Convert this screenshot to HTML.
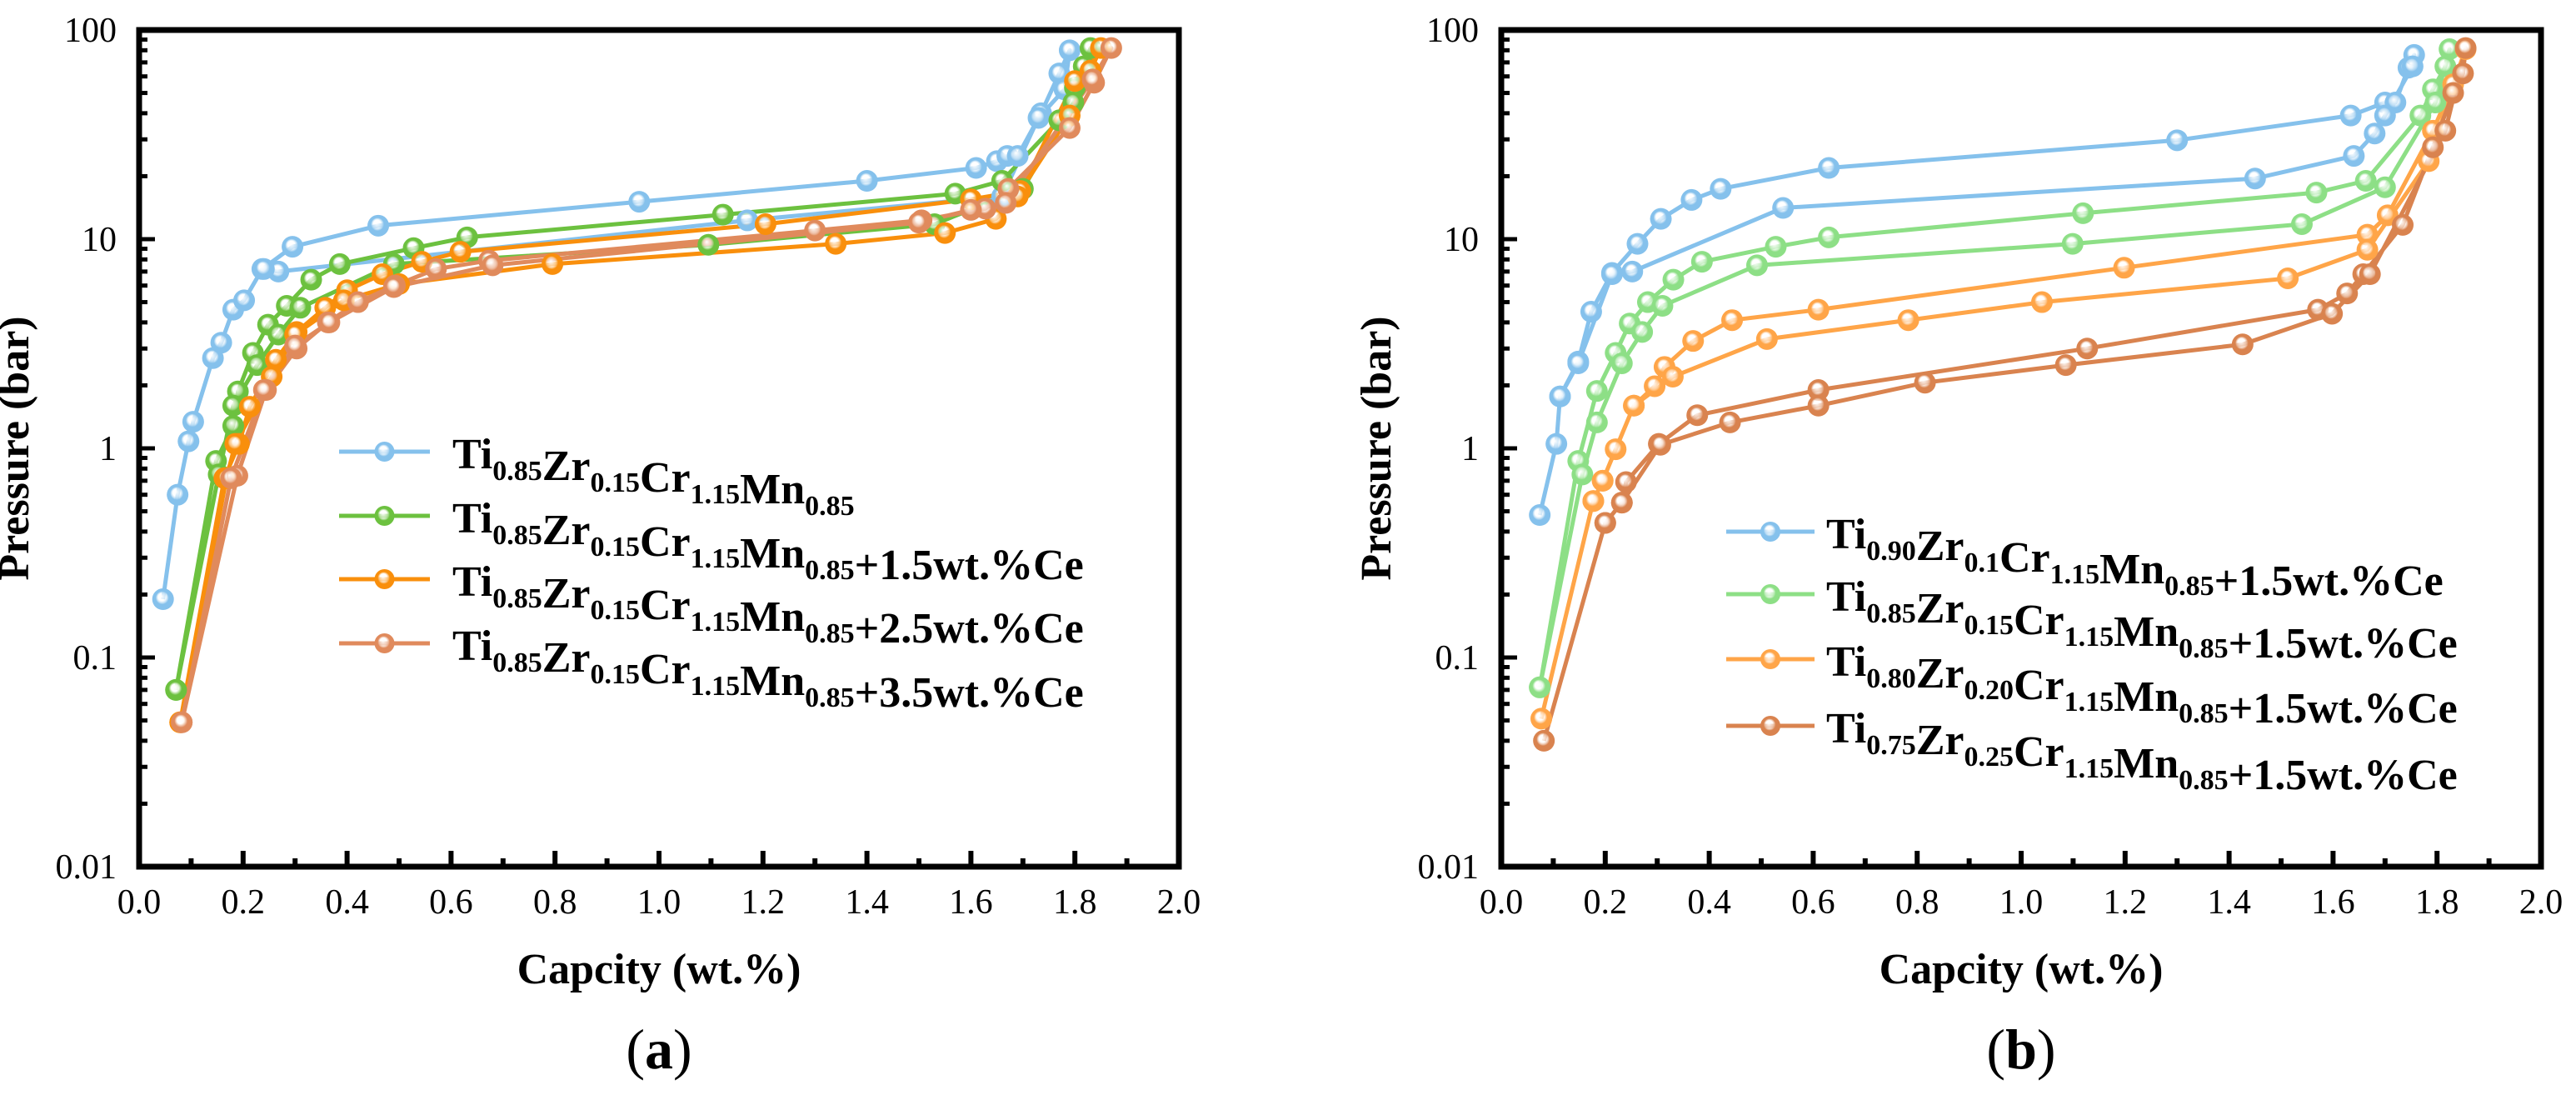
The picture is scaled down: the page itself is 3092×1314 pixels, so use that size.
<!DOCTYPE html>
<html><head><meta charset="utf-8"><style>
html,body{margin:0;padding:0;background:#fff}
svg{display:block}
</style></head><body>
<svg id="fig" xmlns="http://www.w3.org/2000/svg" width="3092" height="1314" viewBox="0 0 3092 1314">
<defs id="defs"></defs>
<g id="chartA"></g>
<g id="chartB"></g>
</svg>
<script>
// ---------- Panel (a) data ----------
const aCatX = [0.0,0.2,0.4,0.6,0.8,1.0,1.2,1.4,1.6,1.8,2.0];
const yTickVals = [0.01,0.1,1,10,100];
const yTickLabels = ["0.01","0.1","1","10","100"];
const xTickLabels = ["0.0","0.2","0.4","0.6","0.8","1.0","1.2","1.4","1.6","1.8","2.0"];

const aBlueX = [0.046,0.074,0.095,0.104,0.142,0.158,0.181,0.202,0.237,0.295,0.46,0.962,1.40,1.61,1.65,1.67,1.69,1.735,1.77,1.79,1.78,1.73,1.66,1.17,0.268,0.24];
const aBlueP = [0.19,0.6,1.08,1.34,2.7,3.2,4.6,5.1,7.2,9.2,11.6,15.1,19,21.9,23.6,25,25,40,62,80,52,38,16,12.3,7.0,7.2];
const aGreenX = [0.071,0.148,0.181,0.19,0.219,0.248,0.284,0.331,0.386,0.528,0.631,1.123,1.57,1.66,1.77,1.80,1.817,1.83,1.797,1.70,1.53,1.095,0.49,0.31,0.268,0.227,0.181,0.153,0.071];
const aGreenP = [0.07,0.87,1.28,1.87,2.86,3.9,4.8,6.4,7.6,9.06,10.2,13.1,16.5,19,37,53,67,82,45,17.4,11.8,9.4,7.6,4.7,3.5,2.5,1.6,0.75,0.07];
const aOrangeX = [0.079,0.164,0.192,0.213,0.263,0.303,0.358,0.40,0.468,0.544,0.618,1.205,1.60,1.695,1.79,1.83,1.85,1.80,1.69,1.648,1.55,1.34,0.795,0.50,0.394,0.30,0.255,0.185,0.168,0.079];
const aOrangeP = [0.049,0.72,1.05,1.58,2.65,3.6,4.7,5.7,6.8,7.8,8.7,11.8,15.5,17,39,64,82,57,16,12.5,10.7,9.5,7.6,6.1,5.1,3.5,2.2,1.05,0.72,0.049];
const aBrownX = [0.082,0.189,0.244,0.303,0.363,0.421,0.492,0.571,0.673,1.30,1.505,1.628,1.672,1.79,1.837,1.87,1.834,1.667,1.60,1.50,0.68,0.49,0.366,0.30,0.24,0.177,0.082];
const aBrownP = [0.049,0.74,1.9,3.0,4.0,5.0,6.0,7.2,7.9,11,12.3,14,17.4,34,56,82,58,14.9,13.8,12,7.5,5.9,4.0,3.1,1.9,0.72,0.049];

// ---------- Panel (b) data ----------
const bBlueX = [0.074,0.106,0.113,0.148,0.173,0.213,0.262,0.307,0.366,0.422,0.63,1.30,1.634,1.70,1.72,1.745,1.756,1.753,1.70,1.68,1.64,1.45,0.542,0.252,0.213,0.148,0.113];
const bBlueP = [0.48,1.05,1.77,2.6,4.5,6.9,9.5,12.5,15.4,17.4,21.9,29.7,39,45,45,66,76,67,39,32,25,19.5,14.1,7.0,6.8,2.55,1.77];
const bGreenX = [0.074,0.148,0.184,0.22,0.247,0.282,0.331,0.386,0.528,0.63,1.119,1.568,1.663,1.768,1.792,1.816,1.824,1.797,1.70,1.54,1.099,0.492,0.31,0.271,0.232,0.184,0.156,0.074];
const bGreenP = [0.072,0.87,1.88,2.86,3.95,5.0,6.4,7.8,9.2,10.2,13.3,16.7,19,39,52,67,81,45,17.7,11.8,9.5,7.5,4.8,3.6,2.55,1.33,0.75,0.072];
const bOrangeX = [0.077,0.177,0.195,0.22,0.255,0.295,0.314,0.369,0.444,0.61,1.198,1.666,1.705,1.792,1.831,1.855,1.784,1.666,1.513,1.04,0.783,0.511,0.33,0.255,0.195,0.177];
const bOrangeP = [0.051,0.56,0.70,0.99,1.6,1.98,2.45,3.26,4.1,4.6,7.3,10.5,13,33,55,81,23.6,8.9,6.5,5.0,4.1,3.33,2.2,1.6,0.70,0.56];
const bBrownX = [0.082,0.20,0.232,0.24,0.303,0.377,0.61,1.127,1.571,1.627,1.658,1.734,1.792,1.831,1.85,1.855,1.816,1.671,1.598,1.426,1.086,0.815,0.61,0.44,0.306,0.232,0.20];
const bBrownP = [0.040,0.44,0.55,0.69,1.05,1.44,1.9,3.0,4.6,5.5,6.8,11.7,27.5,50,62,82,33,6.8,4.4,3.14,2.5,2.06,1.6,1.33,1.04,0.55,0.44];

const aColors = ["#85c1ec","#6cc13f","#f98f0c","#e08a5c"];
const bColors = ["#85c1ec","#8ddf86","#ffa548","#d9834f"];
const aNames = ["blue","green","orange","brown"];

const aSubs = [
  [["Ti",""],["0.85","s"],["Zr",""],["0.15","s"],["Cr",""],["1.15","s"],["Mn",""],["0.85","s"]],
  [["Ti",""],["0.85","s"],["Zr",""],["0.15","s"],["Cr",""],["1.15","s"],["Mn",""],["0.85","s"],["+1.5wt.%Ce",""]],
  [["Ti",""],["0.85","s"],["Zr",""],["0.15","s"],["Cr",""],["1.15","s"],["Mn",""],["0.85","s"],["+2.5wt.%Ce",""]],
  [["Ti",""],["0.85","s"],["Zr",""],["0.15","s"],["Cr",""],["1.15","s"],["Mn",""],["0.85","s"],["+3.5wt.%Ce",""]]
];
const bSubs = [
  [["Ti",""],["0.90","s"],["Zr",""],["0.1","s"],["Cr",""],["1.15","s"],["Mn",""],["0.85","s"],["+1.5wt.%Ce",""]],
  [["Ti",""],["0.85","s"],["Zr",""],["0.15","s"],["Cr",""],["1.15","s"],["Mn",""],["0.85","s"],["+1.5wt.%Ce",""]],
  [["Ti",""],["0.80","s"],["Zr",""],["0.20","s"],["Cr",""],["1.15","s"],["Mn",""],["0.85","s"],["+1.5wt.%Ce",""]],
  [["Ti",""],["0.75","s"],["Zr",""],["0.25","s"],["Cr",""],["1.15","s"],["Mn",""],["0.85","s"],["+1.5wt.%Ce",""]]
];

const SERIF = "font-family:'Liberation Serif','Times New Roman','DejaVu Serif',serif";
const NS = "http://www.w3.org/2000/svg";
function mk(tag, attrs, parent){
  const e = document.createElementNS(NS, tag);
  for (const k in attrs) e.setAttribute(k, attrs[k]);
  if (tag === 'text') e.setAttribute('style', SERIF);
  if (parent) parent.appendChild(e);
  return e;
}
const defs = document.getElementById('defs');
function gradFor(id, color){
  const g = mk('radialGradient', {id:id, cx:"0.5", cy:"0.5", r:"0.55", fx:"0.42", fy:"0.36"}, defs);
  mk('stop', {offset:"0", 'stop-color':"#ffffff"}, g);
  mk('stop', {offset:"0.3", 'stop-color':"#ffffff", 'stop-opacity':"0.6"}, g);
  mk('stop', {offset:"0.55", 'stop-color':color}, g);
  mk('stop', {offset:"1", 'stop-color':color}, g);
}

function drawPanel(root, left, series, colors, subs, legendBox, prefix, panelLabel, yTitleX){
  const W = 624*2, top = 36, bottom = 1040;
  const X = v => left + v*624;
  const Y = p => top + (2 - Math.log10(p)) * 251;
  series.forEach((s, i) => {
    gradFor(prefix+'g'+i, colors[i]);
    const pts = s.x.map((v,k)=> X(v).toFixed(1)+','+Y(s.p[k]).toFixed(1)).join(' ');
    const line = mk('polyline', {points:pts, fill:'none', stroke:colors[i], 'stroke-width':5, 'stroke-linejoin':'round'}, root);
    
    
  });
  series.forEach((s, i) => {
    s.x.forEach((v,k) => {
      const c = mk('circle', {cx:X(v), cy:Y(s.p[k]), r:13, fill:'url(#'+prefix+'g'+i+')'}, root);
      
      
    });
  });
  const fr = mk('rect', {x:left, y:top, width:W, height:bottom-top, fill:'none', stroke:'#000', 'stroke-width':7}, root);
  
  
  for (let t=1; t<20; t++){
    const v = t/10, major = t%2===0;
    mk('line', {x1:X(v), x2:X(v), y1:bottom, y2:bottom-(major?19:10), stroke:'#000', 'stroke-width':6}, root);
  }
  aCatX.forEach((v,k)=>{
    const tx = mk('text', {x:X(v), y:bottom+56, 'text-anchor':'middle', 'font-size':42}, root);
    tx.textContent = xTickLabels[k];
    
    
  });
  for (let d=-2; d<2; d++){
    for (let m=1; m<=9; m++){
      const p = m*Math.pow(10,d);
      if (d===-2 && m===1) continue;
      mk('line', {x1:left, x2:left+(m===1?19:10), y1:Y(p), y2:Y(p), stroke:'#000', 'stroke-width':5}, root);
    }
  }
  yTickVals.forEach((p,k)=>{
    const ty = mk('text', {x:left-27, y:Y(p)+14, 'text-anchor':'end', 'font-size':42}, root);
    ty.textContent = yTickLabels[k];
    
    
  });
  const xt = mk('text', {x:left+W/2, y:1180, 'text-anchor':'middle', 'font-size':52, 'font-weight':'bold'}, root);
  xt.textContent = 'Capcity (wt.%)';
  
  
  const yt = mk('text', {x:0, y:0, 'text-anchor':'middle', 'font-size':52, 'font-weight':'bold', transform:'translate('+(yTitleX+17)+',538) rotate(-90)'}, root);
  yt.textContent = 'Pressure (bar)';
  
  
  const pl = mk('text', {x:left+W/2, y:1282, 'text-anchor':'middle', 'font-size':68}, root);
  pl.innerHTML = '(<tspan font-weight="bold">'+panelLabel+'</tspan>)';
  
  
  const lg = mk('g', {}, root);
  
  
  legendBox.rows.forEach((cy, i) => {
    const ent = mk('g', {}, lg);
    
    
    mk('line', {x1:legendBox.x1, x2:legendBox.x2, y1:cy, y2:cy, stroke:colors[i], 'stroke-width':5}, ent);
    mk('circle', {cx:(legendBox.x1+legendBox.x2)/2, cy:cy, r:12, fill:'url(#'+prefix+'g'+i+')'}, ent);
    const t = mk('text', {x:legendBox.tx, y:cy+20, 'font-size':52, 'font-weight':'bold'}, ent);
    let html = '';
    subs[i].forEach(([s, kind]) => {
      if (kind==='s') html += '<tspan font-size="34" dy="14">'+s+'</tspan><tspan dy="-14"></tspan>';
      else html += '<tspan>'+s+'</tspan>';
    });
    t.innerHTML = html;
  });
}

const A = document.getElementById('chartA');
const B = document.getElementById('chartB');
drawPanel(A, 167, [
  {x:aBlueX,p:aBlueP},{x:aGreenX,p:aGreenP},{x:aOrangeX,p:aOrangeP},{x:aBrownX,p:aBrownP}
], aColors, aSubs, {x1:407, x2:516, tx:543, rows:[542,619,695,772]}, 'a', 'a', 17);
drawPanel(B, 1802, [
  {x:bBlueX,p:bBlueP},{x:bGreenX,p:bGreenP},{x:bOrangeX,p:bOrangeP},{x:bBrownX,p:bBrownP}
], bColors, bSubs, {x1:2072, x2:2178, tx:2192, rows:[638,713,791,871]}, 'b', 'b', 1652);
</script>
</body></html>
